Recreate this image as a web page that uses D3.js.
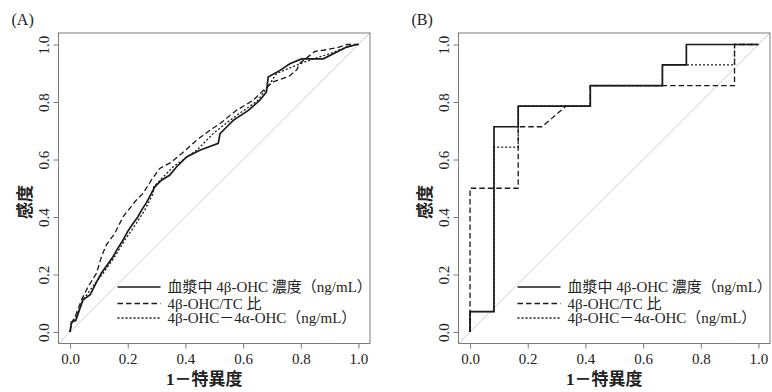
<!DOCTYPE html>
<html>
<head>
<meta charset="utf-8">
<script src="https://cdn.jsdelivr.net/npm/d3@7"></script>
<style>
  html, body { margin: 0; padding: 0; background: #fff; }
  svg text { font-family: "Liberation Serif", "Noto Sans CJK JP", serif; fill: #222; }
</style>
</head>
<body>
<div id="chart"></div>
<script>
// tick labels
var ticks = [0, 0.2, 0.4, 0.6, 0.8, 1.0];
var seriesNames = ["血漿中 4β-OHC 濃度（ng/mL）", "4β-OHC/TC 比", "4β-OHC－4α-OHC（ng/mL）"];

// (A) ROC, 1-specificity / sensitivity
var aConcFpr = [0, 0.005, 0.02, 0.03, 0.045, 0.07, 0.09, 0.109, 0.13, 0.149, 0.165, 0.184, 0.2, 0.219, 0.235, 0.248, 0.265, 0.282, 0.294, 0.317, 0.345, 0.369, 0.404, 0.45, 0.514, 0.52, 0.543, 0.566, 0.618, 0.658, 0.681, 0.687, 0.728, 0.762, 0.803, 0.878, 0.913, 0.959, 0.994, 1];
var aConcTpr = [0, 0.035, 0.04, 0.07, 0.112, 0.13, 0.17, 0.205, 0.235, 0.262, 0.29, 0.32, 0.35, 0.378, 0.4, 0.424, 0.45, 0.482, 0.505, 0.528, 0.545, 0.574, 0.609, 0.632, 0.656, 0.69, 0.713, 0.736, 0.771, 0.806, 0.835, 0.887, 0.91, 0.933, 0.95, 0.95, 0.968, 0.991, 1, 1];

var aRatioFpr = [0, 0.005, 0.02, 0.04, 0.063, 0.092, 0.109, 0.126, 0.155, 0.184, 0.23, 0.253, 0.282, 0.311, 0.35, 0.387, 0.439, 0.485, 0.52, 0.577, 0.635, 0.67, 0.704, 0.76, 0.786, 0.797, 0.849, 0.89, 0.93, 0.96, 1];
var aRatioTpr = [0, 0.03, 0.06, 0.112, 0.158, 0.205, 0.262, 0.303, 0.343, 0.401, 0.459, 0.482, 0.528, 0.569, 0.59, 0.621, 0.667, 0.702, 0.725, 0.771, 0.806, 0.84, 0.87, 0.89, 0.912, 0.935, 0.976, 0.982, 0.99, 1, 1];

var aDiffFpr = [0, 0.005, 0.025, 0.045, 0.08, 0.115, 0.155, 0.19, 0.23, 0.259, 0.288, 0.29, 0.357, 0.439, 0.496, 0.554, 0.652, 0.693, 0.716, 0.797, 0.843, 0.901, 0.959, 0.994, 1];
var aDiffTpr = [0, 0.03, 0.06, 0.112, 0.16, 0.205, 0.262, 0.32, 0.378, 0.424, 0.482, 0.505, 0.574, 0.632, 0.69, 0.736, 0.806, 0.864, 0.899, 0.933, 0.95, 0.968, 0.991, 1, 1];

// (B)
var bConcFpr = [0, 0, 0.083, 0.083, 0.167, 0.167, 0.417, 0.417, 0.667, 0.667, 0.75, 0.75, 1];
var bConcTpr = [0, 0.071, 0.071, 0.714, 0.714, 0.786, 0.786, 0.857, 0.857, 0.929, 0.929, 1, 1];

var bRatioFpr = [0, 0, 0.167, 0.167, 0.25, 0.333, 0.417, 0.417, 0.917, 0.917, 1];
var bRatioTpr = [0, 0.5, 0.5, 0.714, 0.714, 0.786, 0.786, 0.857, 0.857, 1, 1];

var bDiffFpr = [0, 0, 0.083, 0.083, 0.167, 0.167, 0.417, 0.417, 0.667, 0.667, 0.917, 0.917, 1];
var bDiffTpr = [0, 0.071, 0.071, 0.643, 0.643, 0.786, 0.786, 0.857, 0.857, 0.929, 0.929, 1, 1];

var lineStyles = [
  {width: 1.7, dash: null},
  {width: 1.3, dash: "5.5,3"},
  {width: 1.3, dash: "2,2"}
];

var svg = d3.select("#chart").append("svg")
    .attr("width", 772)
    .attr("height", 392);

function zip(xs, ys) { return xs.map(function(x, i) { return [x, ys[i]]; }); }

function drawPanel(label, left, series) {
  var top = 33, bottom = 343.5, right = left + 311.5;
  var x = d3.scaleLinear().domain([-0.04, 1.04]).range([left, right]);
  var y = d3.scaleLinear().domain([-0.04, 1.04]).range([bottom, top]);

  var g = svg.append("g");

  // diagonal reference
  g.append("line")
    .attr("x1", x(-0.04)).attr("y1", y(-0.04))
    .attr("x2", x(1.04)).attr("y2", y(1.04))
    .attr("stroke", "#cfcfcf").attr("stroke-width", 1);

  var line = d3.line()
    .x(function(d) { return x(d[0]); })
    .y(function(d) { return y(d[1]); });

  series.forEach(function(s, i) {
    g.append("path")
      .attr("d", line(s))
      .attr("fill", "none")
      .attr("stroke", "#1a1a1a")
      .attr("stroke-width", lineStyles[i].width)
      .attr("stroke-dasharray", lineStyles[i].dash);
  });

  // box
  g.append("rect")
    .attr("x", left).attr("y", top)
    .attr("width", right - left).attr("height", bottom - top)
    .attr("fill", "none").attr("stroke", "#7a7a7a").attr("stroke-width", 1);

  // axis-x
  var ax = g.append("g")
    .attr("transform", "translate(0," + bottom + ")")
    .call(d3.axisBottom(x).tickValues(ticks).tickFormat(d3.format(".1f")).tickSize(5).tickSizeOuter(0).tickPadding(5));
  ax.select(".domain").remove();
  ax.selectAll("line").attr("stroke", "#7a7a7a");
  ax.selectAll("text").attr("font-size", "15px").attr("fill", "#222");

  // axis-y
  var ay = g.append("g")
    .attr("transform", "translate(" + left + ",0)")
    .call(d3.axisLeft(y).tickValues(ticks).tickFormat(d3.format(".1f")).tickSize(5).tickSizeOuter(0));
  ay.select(".domain").remove();
  ay.selectAll("line").attr("stroke", "#7a7a7a");
  ay.selectAll("text")
    .attr("x", 0).attr("dy", null)
    .attr("transform", "translate(-15,0) rotate(-90)")
    .attr("text-anchor", "middle")
    .attr("dominant-baseline", "central")
    .attr("font-size", "15px").attr("fill", "#222");

  // titles
  g.append("text")
    .attr("x", x(0.5) - 10).attr("y", 379)
    .attr("text-anchor", "middle").attr("dominant-baseline", "central")
    .attr("font-size", "17px").attr("font-weight", "bold")
    .text("1－特異度");
  g.append("text")
    .attr("transform", "translate(" + (left - 33) + ",202) rotate(-90)")
    .attr("text-anchor", "middle").attr("dominant-baseline", "central")
    .attr("font-size", "17px").attr("font-weight", "bold")
    .text("感度");
  g.append("text")
    .attr("x", left - 47).attr("y", 19)
    .attr("dominant-baseline", "central")
    .attr("font-size", "16px")
    .text(label);

  // legend
  var rows = [287, 303.5, 318];
  seriesNames.forEach(function(name, i) {
    g.append("line")
      .attr("x1", left + 59).attr("x2", left + 102)
      .attr("y1", rows[i]).attr("y2", rows[i])
      .attr("stroke", "#1a1a1a")
      .attr("stroke-width", lineStyles[i].width)
      .attr("stroke-dasharray", lineStyles[i].dash);
    g.append("text")
      .attr("x", left + 109).attr("y", rows[i])
      .attr("dominant-baseline", "central")
      .attr("font-size", "15px")
      .text(name);
  });
}

drawPanel("(A)", 58.5, [zip(aConcFpr, aConcTpr), zip(aRatioFpr, aRatioTpr), zip(aDiffFpr, aDiffTpr)]);
drawPanel("(B)", 458.5, [zip(bConcFpr, bConcTpr), zip(bRatioFpr, bRatioTpr), zip(bDiffFpr, bDiffTpr)]);
</script>
</body>
</html>
